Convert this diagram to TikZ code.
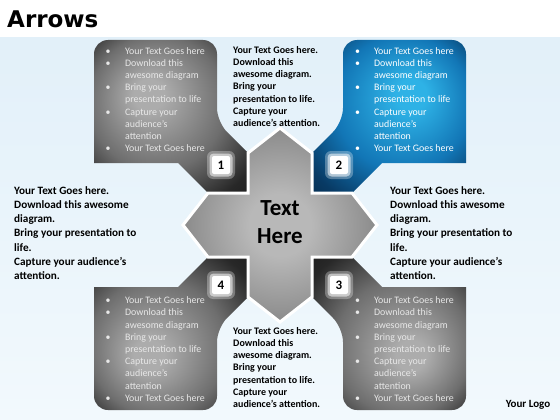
\documentclass[tikz,border=0pt]{standalone}
\usepackage{fontspec}
\setmainfont{Carlito}
\newfontfamily\titlefont{DejaVu Sans}
\definecolor{pin}{RGB}{172,172,172}
\definecolor{pm1}{RGB}{110,110,110}
\definecolor{pm2}{RGB}{40,40,40}
\definecolor{pout}{RGB}{12,12,12}
\definecolor{bin}{RGB}{46,178,230}
\definecolor{bm1}{RGB}{18,118,182}
\definecolor{bm2}{RGB}{8,58,100}
\definecolor{bout}{RGB}{3,25,46}
\definecolor{cin}{RGB}{184,184,184}
\definecolor{cm}{RGB}{136,136,136}
\definecolor{cout}{RGB}{60,60,60}
\definecolor{bgtop}{RGB}{226,240,249}
\definecolor{bgbot}{RGB}{242,249,253}
\definecolor{ptxt}{RGB}{232,232,232}
\pgfdeclareradialshading{pgA}{\pgfpoint{-8bp}{8bp}}{color(0bp)=(pin);color(5bp)=(pin);color(22bp)=(pm1);color(34bp)=(pm2);color(50bp)=(pout)}
\pgfdeclareradialshading{pgB}{\pgfpoint{8bp}{8bp}}{color(0bp)=(bin);color(5bp)=(bin);color(22bp)=(bm1);color(34bp)=(bm2);color(50bp)=(bout)}
\pgfdeclareradialshading{pgC}{\pgfpoint{8bp}{-8bp}}{color(0bp)=(pin);color(5bp)=(pin);color(22bp)=(pm1);color(34bp)=(pm2);color(50bp)=(pout)}
\pgfdeclareradialshading{pgD}{\pgfpoint{-8bp}{-8bp}}{color(0bp)=(pin);color(5bp)=(pin);color(22bp)=(pm1);color(34bp)=(pm2);color(50bp)=(pout)}
\pgfdeclareradialshading{crs}{\pgfpoint{0bp}{0bp}}{color(0bp)=(cin);color(8bp)=(cin);color(26bp)=(cm);color(42bp)=(cout);color(50bp)=(cout)}
\tikzset{
  bodytxt/.style={font=\fontsize{10}{12.2}\selectfont\bfseries, align=left, inner sep=0pt, text=black},
  bigtxt/.style={font=\fontsize{11.2}{14.2}\selectfont\bfseries, align=left, inner sep=0pt, text=black},
  paneltxt/.style={font=\fontsize{9.9}{12.2}\selectfont, inner sep=0pt, text=ptxt},
  glowA/.style={fill=white, opacity=0.3, rounded corners=6pt, minimum size=28pt, inner sep=0pt},
  glowB/.style={fill=white, opacity=0.55, rounded corners=4pt, minimum size=23pt, inner sep=0pt},
  numbox/.style={fill=white, rounded corners=2pt, minimum size=18pt, inner sep=0pt, font=\fontsize{13}{13}\selectfont\bfseries},
  crossstyle/.style={shading=crs, draw=white, line width=3pt}
}
\begin{document}
\begin{tikzpicture}[x=1pt,y=-1pt]
\useasboundingbox (0,0) rectangle (560,420);
\fill[white] (0,0) rectangle (560,420);
\shade[top color=bgtop, bottom color=bgbot] (0,38) rectangle (560,420);

% panels
\shade[shading=pgA] (208,193) -- (178,163) -- (94,163) [rounded corners=14pt] -- (94,40) -- (217,40) -- (217,122) [sharp corners] -- (248,153) -- (248,193) -- cycle;
\shade[shading=pgB] (352,193) -- (382,163) -- (466,163) [rounded corners=14pt] -- (466,40) -- (343,40) -- (343,122) [sharp corners] -- (312,153) -- (312,193) -- cycle;
\shade[shading=pgC] (352,257) -- (382,287) -- (466,287) [rounded corners=14pt] -- (466,410) -- (343,410) -- (343,328) [sharp corners] -- (312,297) -- (312,257) -- cycle;
\shade[shading=pgD] (208,257) -- (178,287) -- (94,287) [rounded corners=14pt] -- (94,410) -- (217,410) -- (217,328) [sharp corners] -- (248,297) -- (248,257) -- cycle;

% cross
\shadedraw[crossstyle] (280,128) -- (312,153) -- (312,193) -- (352,193) -- (377,225) -- (352,257) -- (312,257) -- (312,297) -- (280,322) -- (248,297) -- (248,257) -- (208,257) -- (183,225) -- (208,193) -- (248,193) -- (248,153) -- cycle;

\node[font=\fontsize{23}{28}\selectfont\bfseries, align=center, inner sep=0pt] (ct) at (280,222) {Text\\Here};

% number boxes
\foreach \nm/\px/\py/\lab in {n1/221/165/1, n2/339/165/2, n3/339/285/3, n4/221/285/4}{
  \node[glowA] (\nm a) at (\px,\py) {};
  \node[glowB] (\nm b) at (\px,\py) {};
  \node[numbox] (\nm) at (\px,\py) {\lab};
}

% panel texts
\node[paneltxt, anchor=west] (p1) at (105.5,100.5) {\begin{tabular}{@{}l@{\hspace{14.5pt}}l@{}}
•&Your Text Goes here\\ •&Download this\\ &awesome diagram\\ •&Bring your\\ &presentation to life\\ •&Capture your\\ &audience’s\\ &attention\\ •&Your Text Goes here\end{tabular}};
\node[paneltxt, text=white, anchor=west] (p2) at (355,100.5) {\begin{tabular}{@{}l@{\hspace{14pt}}l@{}}
•&Your Text Goes here\\ •&Download this\\ &awesome diagram\\ •&Bring your\\ &presentation to life\\ •&Capture your\\ &audience’s\\ &attention\\ •&Your Text Goes here\end{tabular}};
\node[paneltxt, anchor=west] (p3) at (355,350) {\begin{tabular}{@{}l@{\hspace{14pt}}l@{}}
•&Your Text Goes here\\ •&Download this\\ &awesome diagram\\ •&Bring your\\ &presentation to life\\ •&Capture your\\ &audience’s\\ &attention\\ •&Your Text Goes here\end{tabular}};
\node[paneltxt, anchor=west] (p4) at (105.5,350) {\begin{tabular}{@{}l@{\hspace{14.5pt}}l@{}}
•&Your Text Goes here\\ •&Download this\\ &awesome diagram\\ •&Bring your\\ &presentation to life\\ •&Capture your\\ &audience’s\\ &attention\\ •&Your Text Goes here\end{tabular}};

% outer texts
\node[bodytxt, anchor=west] (tc) at (233,86.5) {Your Text Goes here.\\Download this\\awesome diagram.\\Bring your\\presentation to life.\\Capture your\\audience’s attention.};
\node[bodytxt, anchor=west] (bc) at (233,367.5) {Your Text Goes here.\\Download this\\awesome diagram.\\Bring your\\presentation to life.\\Capture your\\audience’s attention.};
\node[bigtxt, anchor=west] (lt) at (14,233) {Your Text Goes here.\\Download this awesome\\diagram.\\Bring your presentation to\\life.\\Capture your audience’s\\attention.};
\node[bigtxt, anchor=west] (rt) at (390,233) {Your Text Goes here.\\Download this awesome\\diagram.\\Bring your presentation to\\life.\\Capture your audience’s\\attention.};

\node[anchor=base west, font=\titlefont\bfseries\fontsize{23}{23}\selectfont, inner sep=0pt] (title) at (7,28) {Arrows};
\node[font=\fontsize{11}{11}\selectfont\bfseries, inner sep=0pt] (logo) at (528,405) {Your Logo};
\end{tikzpicture}
\end{document}
